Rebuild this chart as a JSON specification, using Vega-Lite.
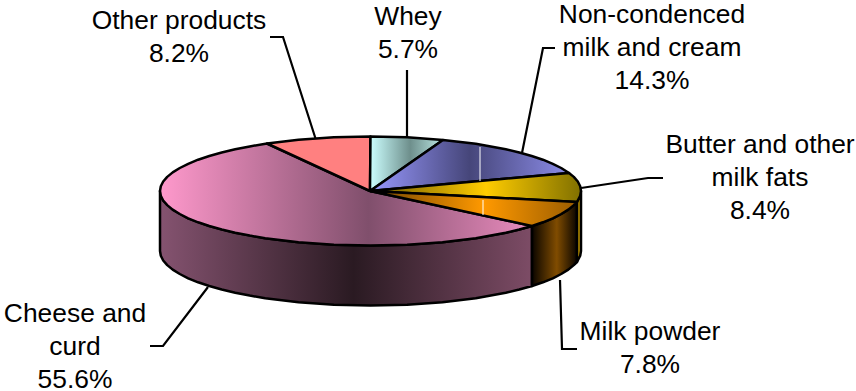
{"$schema":"https://vega.github.io/schema/vega-lite/v6.json","width":856,"height":391,"padding":0,"autosize":{"type":"none"},"background":"white","config":{"view":{"stroke":null}},
"datasets":{
"labels":[
{"product":"Other products","share":8.2,"label":"Other products\n8.2%","x":179,"y":29},
{"product":"Whey","share":5.7,"label":"Whey\n5.7%","x":408,"y":25},
{"product":"Non-condenced milk and cream","share":14.3,"label":"Non-condenced\nmilk and cream\n14.3%","x":652,"y":23},
{"product":"Butter and other milk fats","share":8.4,"label":"Butter and other\nmilk fats\n8.4%","x":760,"y":153},
{"product":"Milk powder","share":7.8,"label":"Milk powder\n7.8%","x":650,"y":340},
{"product":"Cheese and curd","share":55.6,"label":"Cheese and\ncurd\n55.6%","x":75,"y":322}],
"leaders":[
{"s":"other","i":0,"x":270,"y":37},{"s":"other","i":1,"x":283,"y":37},{"s":"other","i":2,"x":316,"y":140},
{"s":"whey","i":0,"x":407,"y":70},{"s":"whey","i":1,"x":407,"y":137},
{"s":"non","i":0,"x":555,"y":48},{"s":"non","i":1,"x":543,"y":48},{"s":"non","i":2,"x":522,"y":153},
{"s":"butter","i":0,"x":663,"y":178},{"s":"butter","i":1,"x":648,"y":178},{"s":"butter","i":2,"x":581,"y":188},
{"s":"milk","i":0,"x":560,"y":280},{"s":"milk","i":1,"x":562,"y":349},{"s":"milk","i":2,"x":577,"y":349},
{"s":"cheese","i":0,"x":150,"y":346},{"s":"cheese","i":1,"x":163,"y":346},{"s":"cheese","i":2,"x":208,"y":287}],
"marks":[
{"s":"a","i":0,"x":480,"y":147},{"s":"a","i":1,"x":480,"y":181},
{"s":"b","i":0,"x":483,"y":200},{"s":"b","i":1,"x":483,"y":215}],
"shapes":[
{"s":"wallCheese","i":0,"x":532,"y":226},{"s":"wallCheese","i":1,"x":519.3,"y":229.5},{"s":"wallCheese","i":2,"x":505.8,"y":232.7},{"s":"wallCheese","i":3,"x":475.8,"y":238.2},{"s":"wallCheese","i":4,"x":442.5,"y":242.2},{"s":"wallCheese","i":5,"x":407.1,"y":244.7},{"s":"wallCheese","i":6,"x":370.5,"y":245.5},{"s":"wallCheese","i":7,"x":333.9,"y":244.7},{"s":"wallCheese","i":8,"x":298.5,"y":242.2},{"s":"wallCheese","i":9,"x":265.2,"y":238.2},{"s":"wallCheese","i":10,"x":235.2,"y":232.7},{"s":"wallCheese","i":11,"x":209.3,"y":226},{"s":"wallCheese","i":12,"x":188.2,"y":218.3},{"s":"wallCheese","i":13,"x":172.7,"y":209.6},{"s":"wallCheese","i":14,"x":163.2,"y":200.5},{"s":"wallCheese","i":15,"x":160,"y":191},
{"s":"wallCheese","i":16,"x":160,"y":251},{"s":"wallCheese","i":17,"x":160.8,"y":255.7},{"s":"wallCheese","i":18,"x":163.2,"y":260.5},{"s":"wallCheese","i":19,"x":167.2,"y":265.1},{"s":"wallCheese","i":20,"x":172.7,"y":269.6},{"s":"wallCheese","i":21,"x":179.8,"y":274},{"s":"wallCheese","i":22,"x":188.2,"y":278.3},{"s":"wallCheese","i":23,"x":198.1,"y":282.3},{"s":"wallCheese","i":24,"x":209.3,"y":286},{"s":"wallCheese","i":25,"x":221.7,"y":289.5},{"s":"wallCheese","i":26,"x":235.2,"y":292.7},{"s":"wallCheese","i":27,"x":249.7,"y":295.6},{"s":"wallCheese","i":28,"x":265.2,"y":298.2},{"s":"wallCheese","i":29,"x":298.5,"y":302.2},{"s":"wallCheese","i":30,"x":333.9,"y":304.7},{"s":"wallCheese","i":31,"x":370.5,"y":305.5},{"s":"wallCheese","i":32,"x":407.1,"y":304.7},{"s":"wallCheese","i":33,"x":442.5,"y":302.2},{"s":"wallCheese","i":34,"x":475.8,"y":298.2},{"s":"wallCheese","i":35,"x":505.8,"y":292.7},{"s":"wallCheese","i":36,"x":519.3,"y":289.5},{"s":"wallCheese","i":37,"x":532,"y":286},{"s":"wallCheese","i":38,"x":532,"y":226},
{"s":"wallMilk","i":0,"x":532,"y":226},{"s":"wallMilk","i":1,"x":542.9,"y":222.3},{"s":"wallMilk","i":2,"x":552.8,"y":218.3},{"s":"wallMilk","i":3,"x":561.2,"y":214},{"s":"wallMilk","i":4,"x":568.3,"y":209.6},{"s":"wallMilk","i":5,"x":573.8,"y":205.1},{"s":"wallMilk","i":6,"x":577,"y":202},{"s":"wallMilk","i":7,"x":577,"y":262},{"s":"wallMilk","i":8,"x":573.8,"y":265.1},{"s":"wallMilk","i":9,"x":568.3,"y":269.6},{"s":"wallMilk","i":10,"x":561.2,"y":274},{"s":"wallMilk","i":11,"x":552.8,"y":278.3},{"s":"wallMilk","i":12,"x":542.9,"y":282.3},{"s":"wallMilk","i":13,"x":532,"y":286},{"s":"wallMilk","i":14,"x":532,"y":226},
{"s":"wallButter","i":0,"x":577,"y":202},{"s":"wallButter","i":1,"x":580.2,"y":195.7},{"s":"wallButter","i":2,"x":581,"y":191},{"s":"wallButter","i":3,"x":581,"y":251},{"s":"wallButter","i":4,"x":580.2,"y":255.7},{"s":"wallButter","i":5,"x":577,"y":262},{"s":"wallButter","i":6,"x":577,"y":202},
{"s":"cheese","i":0,"x":370,"y":191},{"s":"cheese","i":1,"x":532,"y":226},{"s":"cheese","i":2,"x":519.3,"y":229.5},{"s":"cheese","i":3,"x":505.8,"y":232.7},{"s":"cheese","i":4,"x":475.8,"y":238.2},{"s":"cheese","i":5,"x":442.5,"y":242.2},{"s":"cheese","i":6,"x":407.1,"y":244.7},{"s":"cheese","i":7,"x":370.5,"y":245.5},{"s":"cheese","i":8,"x":333.9,"y":244.7},{"s":"cheese","i":9,"x":298.5,"y":242.2},{"s":"cheese","i":10,"x":265.2,"y":238.2},{"s":"cheese","i":11,"x":249.7,"y":235.6},{"s":"cheese","i":12,"x":235.2,"y":232.7},{"s":"cheese","i":13,"x":221.7,"y":229.5},{"s":"cheese","i":14,"x":209.3,"y":226},{"s":"cheese","i":15,"x":198.1,"y":222.3},{"s":"cheese","i":16,"x":188.2,"y":218.3},{"s":"cheese","i":17,"x":179.8,"y":214},{"s":"cheese","i":18,"x":172.7,"y":209.6},{"s":"cheese","i":19,"x":167.2,"y":205.1},{"s":"cheese","i":20,"x":163.2,"y":200.5},{"s":"cheese","i":21,"x":160.8,"y":195.7},{"s":"cheese","i":22,"x":160,"y":191},{"s":"cheese","i":23,"x":160.8,"y":186.3},{"s":"cheese","i":24,"x":163.2,"y":181.5},{"s":"cheese","i":25,"x":167.2,"y":176.9},{"s":"cheese","i":26,"x":172.7,"y":172.4},{"s":"cheese","i":27,"x":179.8,"y":168},{"s":"cheese","i":28,"x":188.2,"y":163.8},{"s":"cheese","i":29,"x":198.1,"y":159.7},{"s":"cheese","i":30,"x":209.3,"y":156},{"s":"cheese","i":31,"x":221.7,"y":152.5},{"s":"cheese","i":32,"x":235.2,"y":149.3},{"s":"cheese","i":33,"x":249.7,"y":146.4},{"s":"cheese","i":34,"x":267,"y":143.5},{"s":"cheese","i":35,"x":370,"y":191},
{"s":"other","i":0,"x":370,"y":191},{"s":"other","i":1,"x":267,"y":143.5},{"s":"other","i":2,"x":298.5,"y":139.8},{"s":"other","i":3,"x":333.9,"y":137.3},{"s":"other","i":4,"x":370.5,"y":136.5},{"s":"other","i":5,"x":370,"y":191},
{"s":"whey","i":0,"x":370,"y":191},{"s":"whey","i":1,"x":370.5,"y":136.5},{"s":"whey","i":2,"x":407.1,"y":137.3},{"s":"whey","i":3,"x":443,"y":140},{"s":"whey","i":4,"x":370,"y":191},
{"s":"non","i":0,"x":370,"y":191},{"s":"non","i":1,"x":443,"y":140},{"s":"non","i":2,"x":475.8,"y":143.8},{"s":"non","i":3,"x":505.8,"y":149.3},{"s":"non","i":4,"x":519.3,"y":152.5},{"s":"non","i":5,"x":531.7,"y":156},{"s":"non","i":6,"x":542.9,"y":159.7},{"s":"non","i":7,"x":552.8,"y":163.8},{"s":"non","i":8,"x":561.2,"y":168},{"s":"non","i":9,"x":569,"y":173},{"s":"non","i":10,"x":370,"y":191},
{"s":"butter","i":0,"x":370,"y":191},{"s":"butter","i":1,"x":569,"y":173},{"s":"butter","i":2,"x":573.8,"y":176.9},{"s":"butter","i":3,"x":577.8,"y":181.5},{"s":"butter","i":4,"x":580.2,"y":186.3},{"s":"butter","i":5,"x":581,"y":191},{"s":"butter","i":6,"x":580.2,"y":195.7},{"s":"butter","i":7,"x":577,"y":202},{"s":"butter","i":8,"x":370,"y":191},
{"s":"milk","i":0,"x":370,"y":191},{"s":"milk","i":1,"x":577,"y":202},{"s":"milk","i":2,"x":573.8,"y":205.1},{"s":"milk","i":3,"x":568.3,"y":209.6},{"s":"milk","i":4,"x":561.2,"y":214},{"s":"milk","i":5,"x":552.8,"y":218.3},{"s":"milk","i":6,"x":542.9,"y":222.3},{"s":"milk","i":7,"x":532,"y":226},{"s":"milk","i":8,"x":370,"y":191}
]},
"encoding":{
"x":{"field":"x","type":"quantitative","scale":{"domain":[0,856]},"axis":null},
"y":{"field":"y","type":"quantitative","scale":{"domain":[0,391],"reverse":true},"axis":null},
"order":{"field":"i","type":"ordinal"}},
"layer":[
{"data":{"name":"leaders"},"mark":{"type":"line","stroke":"black","strokeWidth":2.2},"encoding":{"detail":{"field":"s"}}},
{"data":{"name":"shapes"},"transform":[{"filter":"datum.s=='wallCheese'"}],"mark":{"type":"line","filled":true,"strokeJoin":"round","stroke":"black","strokeWidth":2.5,"fill":{"gradient":"linear","x1":0,"y1":0,"x2":1,"y2":0,"stops":[{"offset":0,"color":"#855370"},{"offset":0.52,"color":"#2A1A22"},{"offset":1,"color":"#7D4C66"}]}}},
{"data":{"name":"shapes"},"transform":[{"filter":"datum.s=='wallMilk'"}],"mark":{"type":"line","filled":true,"strokeJoin":"round","stroke":"black","strokeWidth":2.5,"fill":{"gradient":"linear","x1":0,"y1":0,"x2":1,"y2":0,"stops":[{"offset":0,"color":"#0A0500"},{"offset":0.55,"color":"#804C00"},{"offset":1,"color":"#0A0500"}]}}},
{"data":{"name":"shapes"},"transform":[{"filter":"datum.s=='wallButter'"}],"mark":{"type":"line","filled":true,"strokeJoin":"round","stroke":"black","strokeWidth":2.5,"fill":"#B89000"}},
{"data":{"name":"shapes"},"transform":[{"filter":"datum.s=='cheese'"}],"mark":{"type":"line","filled":true,"strokeJoin":"round","stroke":"black","strokeWidth":2.5,"fill":{"gradient":"linear","x1":0,"y1":0,"x2":1,"y2":0,"stops":[{"offset":0,"color":"#FF99CC"},{"offset":0.56,"color":"#804F6C"},{"offset":1,"color":"#EA8CBE"}]}}},
{"data":{"name":"shapes"},"transform":[{"filter":"datum.s=='other'"}],"mark":{"type":"line","filled":true,"strokeJoin":"round","stroke":"black","strokeWidth":2.5,"fill":"#FF8080"}},
{"data":{"name":"shapes"},"transform":[{"filter":"datum.s=='whey'"}],"mark":{"type":"line","filled":true,"strokeJoin":"round","stroke":"black","strokeWidth":2.5,"fill":{"gradient":"linear","x1":0,"y1":0,"x2":1,"y2":0,"stops":[{"offset":0,"color":"#CCFFFF"},{"offset":0.55,"color":"#6E8F8C"},{"offset":1,"color":"#BCE8E4"}]}}},
{"data":{"name":"shapes"},"transform":[{"filter":"datum.s=='non'"}],"mark":{"type":"line","filled":true,"strokeJoin":"round","stroke":"black","strokeWidth":2.5,"fill":{"gradient":"linear","x1":0,"y1":0,"x2":1,"y2":0,"stops":[{"offset":0,"color":"#9999FF"},{"offset":0.5,"color":"#46467A"},{"offset":1,"color":"#8C8CE8"}]}}},
{"data":{"name":"shapes"},"transform":[{"filter":"datum.s=='butter'"}],"mark":{"type":"line","filled":true,"strokeJoin":"round","stroke":"black","strokeWidth":2.5,"fill":{"gradient":"linear","x1":0,"y1":0,"x2":1,"y2":0,"stops":[{"offset":0,"color":"#6E5800"},{"offset":0.55,"color":"#FFCC00"},{"offset":1,"color":"#807000"}]}}},
{"data":{"name":"shapes"},"transform":[{"filter":"datum.s=='milk'"}],"mark":{"type":"line","filled":true,"strokeJoin":"round","stroke":"black","strokeWidth":2.5,"fill":{"gradient":"linear","x1":0,"y1":0,"x2":1,"y2":0,"stops":[{"offset":0,"color":"#6E4200"},{"offset":0.55,"color":"#FF9900"},{"offset":1,"color":"#9A5C00"}]}}},
{"data":{"name":"marks"},"mark":{"type":"line","stroke":"white","strokeWidth":1},"encoding":{"detail":{"field":"s"}}},
{"data":{"name":"labels"},"mark":{"type":"text","font":"Liberation Sans","fontSize":26.4,"lineBreak":"\n","lineHeight":33,"align":"center","baseline":"alphabetic","color":"black"},"encoding":{"text":{"field":"label"},"order":{"value":null}}}
]}
